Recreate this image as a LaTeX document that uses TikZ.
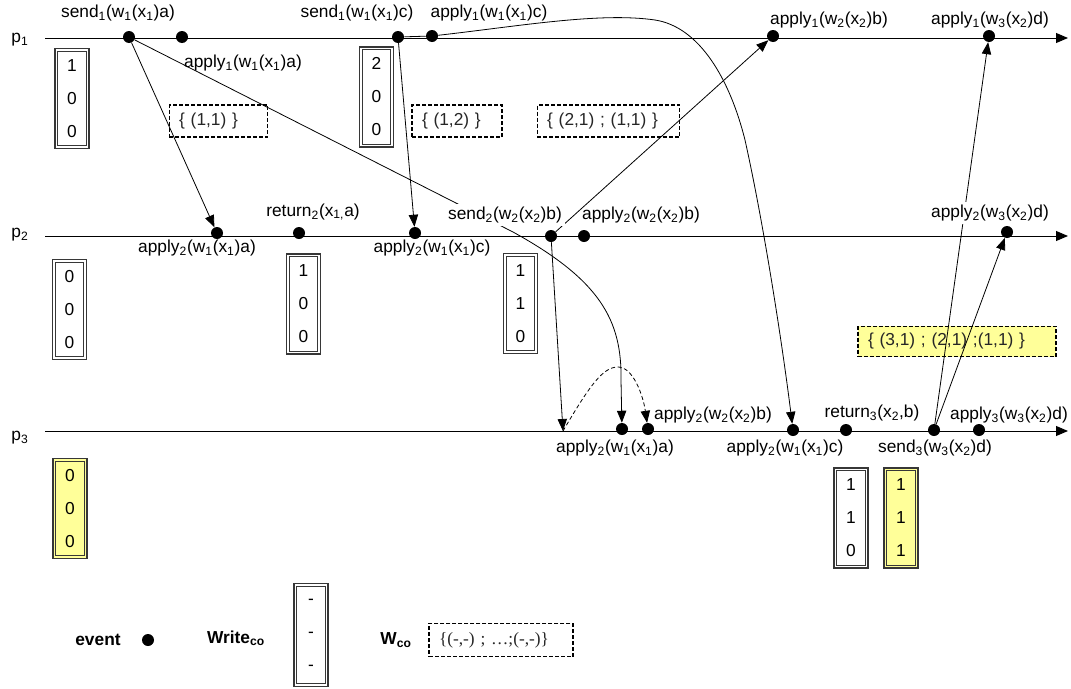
\documentclass[tikz,border=0pt]{standalone}
\usepackage{fontspec}
\setmainfont{Liberation Sans}
\newfontfamily\legserif{Liberation Serif}
\usetikzlibrary{arrows.meta}
\newcommand\sbs[1]{\textsubscript{#1}}
\definecolor{ylw}{RGB}{255,255,153}
\definecolor{bx}{RGB}{55,55,55}
\begin{document}
\begin{tikzpicture}[x=0.75pt,y=-0.75pt,
  font=\fontsize{13}{15}\selectfont,
  ev/.style={circle,fill=black,inner sep=0pt,minimum size=9pt},
  msg/.style={-{Triangle[length=9pt,width=7pt]}, line width=0.6pt},
  tl/.style={-{Triangle[length=9pt,width=7.5pt]}, line width=0.7pt},
  wbox/.style={draw=bx, line width=0.8pt, double=white, double distance=1.2pt,
    minimum width=23.5pt, minimum height=73pt, align=center, inner sep=0pt,
    font=\fontsize{13}{24.75}\selectfont},
  ybox/.style={wbox, double=ylw, fill=ylw},
  dbox/.style={draw, dash pattern=on 3pt off 1.5pt, line width=0.9pt, align=left,
    inner xsep=7.5pt, inner ysep=0pt, minimum height=24pt, text=black!85},
  cover/.style={fill=white, inner sep=2.5pt},
  boldtxt/.style={font=\fontsize{13}{15}\selectfont\bfseries},
]
\useasboundingbox (0,0) rectangle (1071,689);

% time lines
\coordinate (p1s) at (45,38);  \coordinate (p1e) at (1068,38);
\coordinate (p2s) at (45,236); \coordinate (p2e) at (1068,236);
\coordinate (p3s) at (45,431); \coordinate (p3e) at (1068,431);
\draw[tl] (p1s) -- (p1e);
\draw[tl] (p2s) -- (p2e);
\draw[tl] (p3s) -- (p3e);
\node (lp1) at (20,40) {p\sbs1};
\node (lp2) at (20,235) {p\sbs2};
\node (lp3) at (20,438) {p\sbs3};

% Write_co vectors
\node[wbox] (b1) at (72,98.5) {1\\0\\0};
\node[wbox] (b2) at (376.5,97) {2\\0\\0};
\node[wbox] (b3) at (69.5,309.5) {0\\0\\0};
\node[wbox] (b4) at (303.5,304) {1\\0\\0};
\node[wbox] (b5) at (520.5,303.5) {1\\1\\0};
\node[ybox] (b6) at (70,508.5) {0\\0\\0};
\node[wbox] (b7) at (851,518) {1\\1\\0};
\node[ybox] (b8) at (901,518) {1\\1\\1};

% W_co sets
\node[dbox, text width=59pt] (d1) at (218.5,121) {\{ (1,1) \}};
\node[dbox, text width=52.5pt] (d2) at (457,121) {\{ (1,2) \}};
\node[dbox, text width=92pt] (d3) at (608.5,121) {\{ (2,1) ; (1,1) \}};
\node[dbox, fill=ylw, text width=133.5pt, minimum height=23pt] (d4) at (957,341.5) {\{ (3,1) ; (2,1) ;(1,1) \}};

% events
\node[ev] (e1a) at (129,37) {};
\node[ev] (e1b) at (182,37) {};
\node[ev] (e1c) at (398,37) {};
\node[ev] (e1d) at (432,36) {};
\node[ev] (e1e) at (773,36) {};
\node[ev] (e1f) at (989,36) {};
\node[ev] (e2a) at (217,233) {};
\node[ev] (e2b) at (299,233) {};
\node[ev] (e2c) at (415,233) {};
\node[ev] (e2d) at (551,236) {};
\node[ev] (e2e) at (584,236) {};
\node[ev] (e2f) at (1007,232) {};
\node[ev] (e3a) at (622,429) {};
\node[ev] (e3b) at (648,429) {};
\node[ev] (e3c) at (793,430) {};
\node[ev] (e3d) at (846,430) {};
\node[ev] (e3e) at (934,430) {};
\node[ev] (e3f) at (979,430) {};
\coordinate (m3) at (563,431);
\coordinate (c1) at (513,232);

% messages
\draw[msg] (e1a) -- (e2a);
\draw[msg] (e1a) -- (c1) .. controls (600,280) and (622,320) .. (621,380) -- (e3a);
\draw[msg] (e1c) -- (e2c);
\draw[msg] (e1c) -- (e1d) .. controls (520,26) and (600,12) .. (655,20)
  .. controls (700,27) and (730,80) .. (745,140)
  .. controls (765,230) and (783,350) .. (e3c);
\draw[msg] (e2d) -- (e1e);
\draw[msg] (e2d) -- (m3);
\draw[msg, dash pattern=on 3pt off 2pt] (m3) .. controls (590,385) and (603,367) .. (618,367)
  .. controls (633,367) and (643,395) .. (e3b);
\draw[msg] (e3e) -- (e1f);
\draw[msg] (e3e) -- (e2f);

% labels
\node (t1) at (118,13) {send\sbs1(w\sbs1(x\sbs1)a)};
\node (t2) at (243,63) {apply\sbs1(w\sbs1(x\sbs1)a)};
\node (t3) at (357,13) {send\sbs1(w\sbs1(x\sbs1)c)};
\node (t4) at (489,13) {apply\sbs1(w\sbs1(x\sbs1)c)};
\node (t5) at (829,20) {apply\sbs1(w\sbs2(x\sbs2)b)};
\node (t6) at (990,20) {apply\sbs1(w\sbs3(x\sbs2)d)};
\node (t7) at (197,248) {apply\sbs2(w\sbs1(x\sbs1)a)};
\node (t8) at (313,212) {return\sbs2(x\sbs{1,}a)};
\node (t9) at (432,248) {apply\sbs2(w\sbs1(x\sbs1)c)};
\node[cover] (t10) at (505,215) {send\sbs2(w\sbs2(x\sbs2)b)};
\node (t11) at (641,215) {apply\sbs2(w\sbs2(x\sbs2)b)};
\node[cover] (t12) at (990,213) {apply\sbs2(w\sbs3(x\sbs2)d)};
\node (t13) at (713,415) {apply\sbs2(w\sbs2(x\sbs2)b)};
\node (t14) at (872,413) {return\sbs3(x\sbs2,b)};
\node (t15) at (1009,415) {apply\sbs3(w\sbs3(x\sbs2)d)};
\node (t16) at (615,448) {apply\sbs2(w\sbs1(x\sbs1)a)};
\node (t17) at (785,448) {apply\sbs2(w\sbs1(x\sbs1)c)};
\node (t18) at (935,448) {send\sbs3(w\sbs3(x\sbs2)d)};

% legend
\node[boldtxt] (lg1) at (98,640) {event};
\node[ev] (lgev) at (148,640) {};
\node[boldtxt] (lg2) at (236,638) {Write\sbs{co}};
\node[wbox, minimum height=75pt] (lgbox) at (311,635) {-\\-\\-};
\node[boldtxt] (lg3) at (396,640) {W\sbs{co}};
\node[dbox, text width=93pt, minimum height=25pt, font=\legserif\fontsize{13}{15}\selectfont] (lgset) at (501,640) {\{(-,-) ; …;(-,-)\}};
\end{tikzpicture}
\end{document}
